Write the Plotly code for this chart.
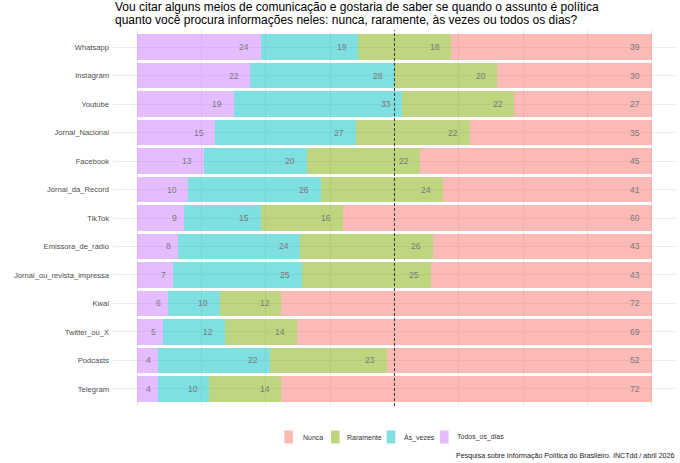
import plotly.graph_objects as go

# categorias (de cima para baixo)
meios = [
    "Whatsapp", "Instagram", "Youtube", "Jornal_Nacional", "Facebook",
    "Jornal_da_Record", "TikTok", "Emissora_de_rádio",
    "Jornal_ou_revista_impressa", "Kwai", "Twitter_ou_X", "Podcasts", "Telegram",
]

todos_os_dias = [24, 22, 19, 15, 13, 10, 9, 8, 7, 6, 5, 4, 4]
as_vezes = [19, 28, 33, 27, 20, 26, 15, 24, 25, 10, 12, 22, 10]
raramente = [18, 20, 22, 22, 22, 24, 16, 26, 25, 12, 14, 23, 14]
nunca = [39, 30, 27, 35, 45, 41, 60, 43, 43, 72, 69, 52, 72]

series = [
    ("Todos_os_dias", todos_os_dias, "rgba(199,124,255,0.5)"),
    ("Às_vezes", as_vezes, "rgba(0,191,196,0.5)"),
    ("Raramente", raramente, "rgba(124,174,0,0.5)"),
    ("Nunca", nunca, "rgba(248,118,109,0.5)"),
]

titulo_l1 = "Vou citar alguns meios de comunicação e gostaria de saber se quando o assunto é política"
titulo_l2 = "quanto você procura informações neles: nunca, raramente, às vezes ou todos os dias?"
fonte = "Pesquisa sobre Informação Política do Brasileiro. INCTdd / abril 2026"

FAM = "Liberation Sans, Arial, sans-serif"

W, H = 680, 463
ML, MR, MT, MB = 113, 4, 30, 57
PW, PH = W - ML - MR, H - MT - MB


def px(x):  # pixel -> paper (x)
    return (x - ML) / PW


def py(y):  # pixel -> paper (y)
    return 1 - (y - MT) / PH


# os percentuais arredondados nem sempre somam 100: normaliza a largura
totais = [sum(v) for v in zip(*[s[1] for s in series])]

fig = go.Figure()
acum = [0.0] * len(meios)
anots = []
for nome, vals, cor in series:
    larg = [v / t * 100 for v, t in zip(vals, totais)]
    fig.add_trace(go.Bar(
        y=meios, x=larg, name=nome, orientation="h",
        marker=dict(color=cor, line=dict(width=0)),
        hoverinfo="skip",
    ))
    for i, (v, w) in enumerate(zip(vals, larg)):
        acum[i] += w
        anots.append(dict(
            x=acum[i], y=meios[i], xref="x", yref="y",
            text=str(v), showarrow=False, xanchor="right",
            xshift=-4.8 * len(str(v)),
            font=dict(family=FAM, size=8.6, color="#7a7a7a"),
        ))

# título em duas linhas
for txt, ypix in [(titulo_l1, 6.8), (titulo_l2, 20.2)]:
    anots.append(dict(
        x=px(112.5), y=py(ypix), xref="paper", yref="paper", text=txt, showarrow=False,
        xanchor="left", yanchor="middle", font=dict(family=FAM, size=12, color="black"),
    ))

# legenda desenhada à mão (ordem invertida)
leg_box = [284.3, 331, 386.7, 440]
leg_txt = [301.5, 346, 403.3, 456]
for (nome, _, cor), xb, xt in zip(series[::-1], leg_box, leg_txt):
    fig.add_shape(type="rect", xref="paper", yref="paper",
                  x0=px(xb), x1=px(xb + 8.6), y0=py(443.5), y1=py(430.5),
                  fillcolor=cor, line=dict(width=0))
    anots.append(dict(
        x=px(xt - 1), y=py(437), xref="paper", yref="paper", text=nome, showarrow=False,
        xanchor="left", yanchor="middle", font=dict(family=FAM, size=7.0, color="#333333"),
    ))

anots.append(dict(
    x=px(676), y=py(456), xref="paper", yref="paper", text=fonte, showarrow=False,
    xanchor="right", yanchor="middle", font=dict(family=FAM, size=7.1, color="#222222"),
))

fig.add_shape(type="line", x0=50, x1=50, y0=0, y1=1, xref="x", yref="paper",
              line=dict(color="#444444", width=1.1, dash="3px,2px"))

fig.update_layout(
    width=W, height=H,
    margin=dict(l=ML, r=MR, t=MT, b=MB, autoexpand=False),
    paper_bgcolor="white", plot_bgcolor="white",
    barmode="stack", bargap=0.1,
    font=dict(family=FAM, color="#4d4d4d"),
    showlegend=False,
    annotations=anots,
)
fig.update_xaxes(range=[-4.7, 104.7], tick0=0, dtick=12.5, showticklabels=False,
                 showgrid=True, gridcolor="#ebebeb", gridwidth=0.6, zeroline=False)
fig.update_yaxes(autorange=False, range=[12.6, -0.6], showgrid=True, gridcolor="#ebebeb",
                 gridwidth=0.6, ticks="", ticklabelstandoff=3, automargin=False,
                 tickfont=dict(family=FAM, size=7.6, color="#4d4d4d"))

# sem a margem padrão do <body>, a figura ocupa a janela inteira
fig.write_html("out.html", config={"displayModeBar": False},
               post_script="document.body.style.margin='0';")
